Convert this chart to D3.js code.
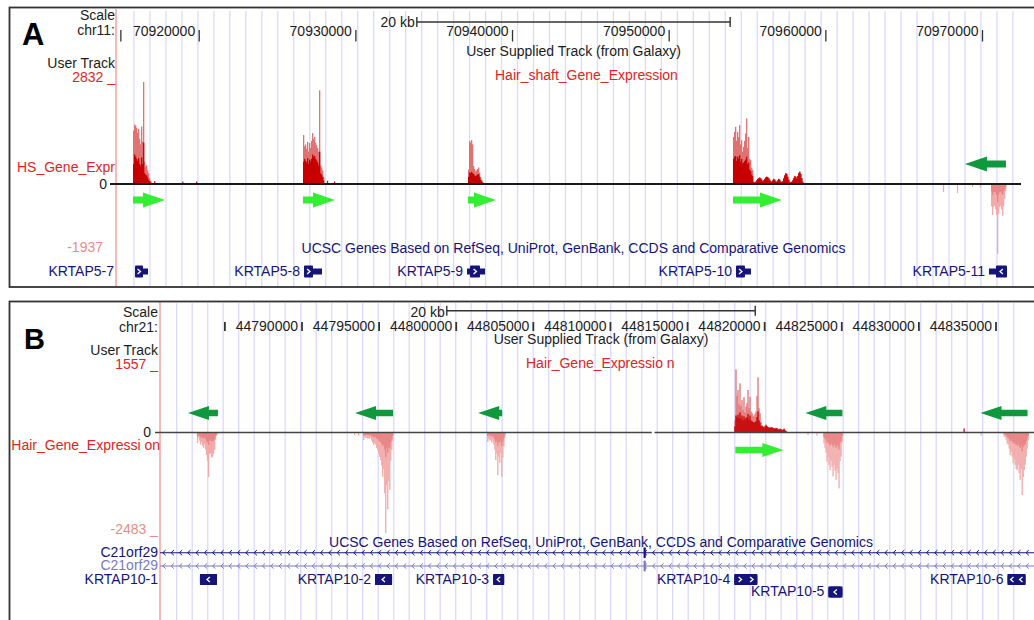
<!DOCTYPE html>
<html>
<head>
<meta charset="utf-8">
<script src="https://cdn.jsdelivr.net/npm/d3@7/dist/d3.min.js"></script>
<style>
  html, body { margin: 0; padding: 0; background: #fff; }
  svg { display: block; }
</style>
</head>
<body>
<svg id="fig" width="1034" height="620"></svg>
<script>
// ================= chr11 : KRTAP5 cluster =================
const chr11Ticks = [70915000, 70920000, 70930000, 70940000, 70950000, 70960000, 70970000];
const chr11TickLabels = ["", "70920000", "70930000", "70940000", "70950000", "70960000", "70970000"];

// coverage in 64-bp bins: start of each run, max (light) and mean (dark) per bin
const binA = 64;
const krtap5_7Start = 70915806;
const krtap5_7Max  = [1480, 1650, 1620, 1560, 1420, 1530, 1260, 1100, 1600, 1180, 2832, 620, 480, 520, 380, 300, 160, 90];
const krtap5_7Mean = [560, 820, 760, 700, 640, 720, 560, 500, 740, 560, 1150, 300, 260, 240, 180, 120, 80, 40];
const krtap5_8Start = 70926657;
const krtap5_8Max  = [1360, 1050, 1100, 980, 1170, 900, 1140, 1000, 1200, 1414, 1250, 1310, 1150, 1080, 1000, 900, 2600, 520, 460, 380, 200];
const krtap5_8Mean = [620, 700, 640, 600, 720, 560, 680, 620, 700, 820, 760, 780, 700, 660, 600, 520, 900, 300, 260, 200, 100];
const krtap5_9Start = 70937189;
const krtap5_9Max  = [400, 1200, 1150, 1220, 1100, 500, 420, 350, 380, 420, 460, 320, 200, 120, 60];
const krtap5_9Mean = [200, 320, 300, 340, 300, 280, 240, 220, 240, 260, 280, 200, 120, 80, 40];
const krtap5_10Start = 70954104;
const krtap5_10Max = [1310, 1450, 1590, 1200, 1450, 1300, 1636, 1100, 1220, 900, 1035, 1200, 1400, 1820, 1000, 1310, 700, 666, 450, 388,
  70, 50, 70, 110, 150, 170, 190, 170, 130, 90, 110, 150, 190, 210, 200, 170, 130, 90, 70, 110,
  150, 130, 90, 70, 110, 150, 130, 80, 60, 90, 170, 250, 310, 290, 210, 130, 70, 50, 70, 110,
  170, 230, 210, 160, 230, 310, 350, 290, 170, 70];
const krtap5_10Mean = [700, 760, 780, 640, 760, 700, 800, 620, 700, 560, 600, 640, 680, 760, 560, 600, 400, 360, 260, 220,
  60, 40, 60, 100, 140, 160, 180, 160, 120, 80, 100, 140, 180, 200, 190, 160, 120, 80, 60, 100,
  140, 120, 80, 60, 100, 140, 120, 70, 50, 80, 160, 240, 300, 280, 200, 120, 60, 40, 60, 100,
  160, 220, 200, 150, 220, 300, 340, 280, 160, 60];
const krtap5_11Start = 70970573;
const krtap5_11Max  = [-620, -860, -640, -600, -700, -860, -1937, -820, -640, -600, -700, -880, -620, -400, -200];
const krtap5_11Mean = [-200, -300, -220, -200, -240, -300, -500, -280, -220, -200, -240, -300, -200, -140, -80];
// isolated single-bin reads: [position, value]
const blipsA = [[70917154, 80], [70918947, 70], [70919828, 70], [70928190, 90], [70928637, 70],
  [70967504, -220], [70968398, -250], [70969355, -80], [70969866, -100]];

const arrowSpanA   = [[70915807, 70917850], [70926657, 70928700], [70937189, 70938976], [70954104, 70957232], [70968911, 70971528]];
const arrowStrandA = ["+", "+", "+", "+", "-"];

const geneNamesA  = ["KRTAP5-7", "KRTAP5-8", "KRTAP5-9", "KRTAP5-10", "KRTAP5-11"];
const geneTxA     = [[70915934, 70916764], [70926721, 70927870], [70937126, 70938275], [70954296, 70955253], [70970445, 70971594]];
const geneCdsA    = [[70915934, 70916445], [70926721, 70927296], [70937318, 70937956], [70954296, 70954870], [70970892, 70971594]];
const geneStrandA = ["+", "+", "+", "+", "-"];
const geneRowA    = [0, 0, 0, 0, 0];

// ================= chr21 : KRTAP10 cluster =================
const chr21Ticks = [44785000, 44790000, 44795000, 44800000, 44805000, 44810000, 44815000, 44820000, 44825000, 44830000, 44835000];
const chr21TickLabels = ["", "44790000", "44795000", "44800000", "44805000", "44810000", "44815000", "44820000", "44825000", "44830000", "44835000"];

const binB = 65;
const krtap10_1Start = 44783219;
const krtap10_1Max  = [-260, -120, -200, -300, -240, -330, -380, -280, -420, -560, -700, -1100, -540, -510, -620, -600, -520, -430, -185, -80, -40];
const krtap10_1Mean = [-100, -50, -80, -120, -100, -130, -150, -110, -160, -200, -240, -300, -200, -190, -220, -210, -190, -160, -80, -40, -20];
const krtap10_2Start = 44793991;
const krtap10_2Max  = [-185, -100, -140, -120, -150, -140, -160, -130, -200, -250, -310, -260, -300, -380, -430, -520, -600, -680, -820, -1100, -900, -1500, -2483, -1300, -1900, -1200, -1420, -700, -430, -200];
const krtap10_2Mean = [-80, -50, -60, -50, -60, -60, -70, -60, -80, -100, -120, -100, -120, -150, -170, -200, -220, -240, -280, -340, -300, -420, -600, -380, -500, -360, -400, -240, -160, -80];
const krtap10_3Start = 44802037;
const krtap10_3Max  = [-230, -160, -200, -180, -250, -200, -300, -420, -680, -520, -1050, -600, -750, -500, -1090, -620, -350, -120];
const krtap10_3Mean = [-90, -60, -80, -70, -100, -80, -120, -160, -240, -200, -320, -220, -260, -190, -330, -220, -140, -50];
const krtap10_4Start = 44818065;
const krtap10_4Max  = [300, 1557, 900, 1050, 700, 1215, 650, 800, 560, 870, 500, 640, 720, 1050, 600, 885, 520, 480, 420, 390,
  460, 520, 900, 1364, 600, 475, 260, 180, 150, 130, 170, 200, 160, 140, 130, 120, 140, 130, 120, 110,
  100, 120, 110, 90, 80, 100, 90, 60, 80, 100, 60, 40];
const krtap10_4Mean = [150, 420, 380, 440, 360, 500, 340, 420, 300, 400, 320, 360, 380, 460, 320, 420, 300, 280, 260, 240,
  260, 280, 380, 520, 300, 240, 160, 160, 140, 120, 150, 180, 150, 130, 120, 110, 130, 120, 110, 100,
  90, 110, 100, 80, 70, 90, 80, 50, 70, 90, 50, 30];
const krtap10_5Start = 44823840;
const krtap10_5Max  = [-270, -380, -500, -720, -600, -800, -930, -700, -850, -1090, -800, -950, -1170, -900, -1000, -1380, -700, -600, -250];
const krtap10_5Mean = [-110, -150, -190, -250, -220, -280, -320, -250, -300, -360, -280, -320, -380, -300, -340, -420, -250, -220, -100];
const krtap10_6Start = 44835520;
const krtap10_6Max  = [-100, -120, -180, -270, -300, -400, -560, -480, -600, -760, -650, -800, -900, -930, -800, -1000, -1170, -900, -1545, -1100, -930, -800, -600, -400, -200];
const krtap10_6Mean = [-40, -50, -70, -110, -120, -160, -210, -180, -220, -270, -240, -280, -310, -320, -280, -340, -380, -310, -460, -360, -320, -280, -220, -150, -80];
const blipsB = [[44793407, -60], [44793666, -80], [44822803, -60], [44823387, -80], [44832927, 100], [44834030, -80]];
// no-data stretch in the chr21 wiggle track
const zeroGapB = [44812712, 44812894];

const arrowSpanB   = [[44782636, 44784583], [44793472, 44795937], [44801453, 44803010], [44822672, 44825073], [44834028, 44837078], [44818130, 44821245]];
const arrowStrandB = ["-", "-", "-", "-", "-", "+"];

const geneNamesB  = ["KRTAP10-1", "KRTAP10-2", "KRTAP10-3", "KRTAP10-4", "KRTAP10-5", "KRTAP10-6"];
const geneTxB     = [[44783414, 44784517], [44794769, 44795872], [44802427, 44803141], [44818065, 44819558], [44824165, 44825073], [44835780, 44836948]];
const geneStrandB = ["-", "-", "-", "+", "-", "-"];
const geneRowB    = [0, 0, 0, 0, 1, 0];
// C21orf29 spans the whole window (two isoforms), one exon visible
const c21orf29Span = [44770000, 44850000];
const c21orf29Exon = [44812180, 44812260];

// ================= drawing =================
const FONT = '"Liberation Sans", Arial, Helvetica, sans-serif';
const INK = "#1c1c1c", RED = "#e02424", PINK = "#f08a8a", NAVY = "#14147a", NAVY_LIGHT = "#7a7abf";
const POS_MAX = "#e07272", POS_MEAN = "#c60000", NEG_MAX = "#f2aaaa", NEG_MEAN = "#e88585";
const GREEN_FWD = "#33ee33", GREEN_REV = "#10983c", GRID = "#dadaff";

const svg = d3.select("#fig");
svg.append("rect").attr("width", 1034).attr("height", 620).attr("fill", "#fff");

function label(g, s, x, y, o = {}) {
  return g.append("text").text(s).attr("x", x).attr("y", y)
    .attr("font-family", FONT).attr("font-size", o.size || 14)
    .attr("font-weight", o.weight || "normal")
    .attr("text-anchor", o.anchor || "start")
    .attr("fill", o.fill || INK);
}

function drawSignal(g, x, y, start, bin, maxVals, meanVals, neg) {
  const cols = maxVals.map((v, i) => ({ bp: start + i * bin, max: v, mean: meanVals[i] }));
  const w = d => Math.max(1, x(d.bp + bin) - x(d.bp)) + 0.3;
  [["max", neg ? NEG_MAX : POS_MAX], ["mean", neg ? NEG_MEAN : POS_MEAN]].forEach(([k, col]) => {
    g.append("g").selectAll("rect").data(cols).join("rect")
      .attr("x", d => x(d.bp)).attr("width", w)
      .attr("y", d => Math.min(y(0), y(d[k])))
      .attr("height", d => Math.abs(y(d[k]) - y(0)))
      .attr("fill", col);
  });
}

function drawBlips(g, x, y, blips, bin) {
  g.append("g").selectAll("rect").data(blips).join("rect")
    .attr("x", d => x(d[0])).attr("width", d => Math.max(1.2, x(d[0] + bin) - x(d[0])))
    .attr("y", d => Math.min(y(0), y(d[1])))
    .attr("height", d => Math.abs(y(d[1]) - y(0)))
    .attr("fill", d => d[1] < 0 ? NEG_MAX : POS_MEAN);
}

function arrowPath(x0, x1, strand, cy, hl, hh, sh) {
  hl = Math.min(hl, x1 - x0);
  if (strand === "+")
    return `M${x0},${cy - sh}L${x1 - hl},${cy - sh}L${x1 - hl},${cy - hh}L${x1},${cy}L${x1 - hl},${cy + hh}L${x1 - hl},${cy + sh}L${x0},${cy + sh}Z`;
  return `M${x1},${cy - sh}L${x0 + hl},${cy - sh}L${x0 + hl},${cy - hh}L${x0},${cy}L${x0 + hl},${cy + hh}L${x0 + hl},${cy + sh}L${x1},${cy + sh}Z`;
}

function drawArrows(g, x, spans, strands, cfg) {
  g.append("g").selectAll("path").data(spans).join("path")
    .attr("d", (d, i) => arrowPath(x(d[0]), x(d[1]), strands[i],
      strands[i] === "+" ? cfg.fwdY : cfg.revY, cfg.head, cfg.headHalf, cfg.shaftHalf))
    .attr("fill", (d, i) => strands[i] === "+" ? GREEN_FWD : GREEN_REV);
}

function chevron(g, cx, cy, strand, col, size) {
  const d = strand === "+" ? 1 : -1;
  g.append("path")
    .attr("d", `M${cx - d * size * 0.6},${cy - size}L${cx + d * size * 0.6},${cy}L${cx - d * size * 0.6},${cy + size}`)
    .attr("fill", "none").attr("stroke", col).attr("stroke-width", 1.3);
}

function drawGenes(g, x, names, tx, cds, strands, rows, cfg) {
  names.forEach((name, i) => {
    const cy = cfg.rowY[rows[i]];
    const x0 = x(tx[i][0]), x1 = x(tx[i][1]);
    const c0 = x(cds[i][0]), c1 = x(cds[i][1]);
    g.append("rect").attr("x", x0).attr("y", cy - cfg.thin / 2).attr("width", x1 - x0).attr("height", cfg.thin).attr("fill", NAVY);
    g.append("rect").attr("x", c0).attr("y", cy - cfg.thick / 2).attr("width", c1 - c0).attr("height", cfg.thick)
      .attr("rx", cfg.rx).attr("fill", NAVY);
    const w = c1 - c0;
    const n = Math.floor((w + 2) / 10);
    for (let k = 0; k < n; k++) chevron(g, c0 + w * (k + 0.5) / n, cy, strands[i], "#fff", 2.4);
    const t = label(g, name, 0, cy + cfg.textDy, { anchor: "end", fill: NAVY, size: 14 });
    const tw = t.node().getComputedTextLength();
    let end = x0 - 4;
    if (end - tw < cfg.trackLeft) end = cfg.trackLeft - 2;
    t.attr("x", end);
  });
}

function drawRuler(g, x, ticks, labels, cfg) {
  const ax = g.append("g").attr("transform", `translate(0,${cfg.tickTop})`)
    .call(d3.axisBottom(x).tickValues(ticks).tickFormat((d, i) => labels[i])
      .tickSize(cfg.tickLen).tickSizeOuter(0));
  ax.select(".domain").remove();
  ax.selectAll(".tick line").attr("stroke", "#333").attr("stroke-width", cfg.tickW);
  ax.selectAll(".tick text").attr("text-anchor", "end").attr("x", -4).attr("y", cfg.labelY - cfg.tickTop)
    .attr("dy", 0).attr("font-family", FONT).attr("font-size", 14).attr("fill", INK);
  // 20 kb scale bar centred on the window
  const mid = (x.invert(cfg.trackLeft) + x.invert(cfg.viewRight)) / 2;
  const b0 = x(mid - 10000), b1 = x(mid + 10000);
  g.append("line").attr("x1", b0).attr("x2", b1).attr("y1", cfg.barY).attr("y2", cfg.barY).attr("stroke", "#333").attr("stroke-width", 1.4);
  [b0, b1].forEach(v => g.append("line").attr("x1", v).attr("x2", v).attr("y1", cfg.barY - 5).attr("y2", cfg.barY + 5).attr("stroke", "#333").attr("stroke-width", 1.4));
  label(g, "20 kb", b0 - 2, cfg.barLabelY, { anchor: "end" });
  return (cfg.trackLeft + cfg.viewRight) / 2;
}

function drawGuides(g, cfg) {
  g.append("g").selectAll("line").data(d3.range(cfg.gridStart, cfg.gridEnd, cfg.gridStep)).join("line")
    .attr("x1", d => d).attr("x2", d => d).attr("y1", cfg.gridTop).attr("y2", cfg.gridBottom)
    .attr("stroke", GRID).attr("stroke-width", 1.3);
  g.append("line").attr("x1", cfg.trackLeft).attr("x2", cfg.trackLeft).attr("y1", cfg.gridTop - 2).attr("y2", cfg.gridBottom)
    .attr("stroke", "#f6a8a8").attr("stroke-width", 1.6);
}

// ---------- panel A ----------
(function () {
  const g = svg.append("g");
  const x = d3.scaleLinear().domain([70920000, 70970000]).range([198.7, 982]);
  const allA = [...krtap5_7Max, ...krtap5_8Max, ...krtap5_9Max, ...krtap5_10Max, ...krtap5_11Max];
  const y = d3.scaleLinear().domain([d3.min(allA), d3.max(allA)]).range([253.9, 82]);
  const cfg = { trackLeft: 116, viewRight: 1031, gridStart: 134, gridEnd: 1020, gridStep: 15.98, gridTop: 11, gridBottom: 287 };
  drawGuides(g, cfg);

  label(g, "A", 22, 45, { size: 31, weight: "bold", fill: "#000" });
  label(g, "Scale", 115, 20, { anchor: "end" });
  label(g, "chr11:", 115, 35, { anchor: "end" });
  const mid = drawRuler(g, x, chr11Ticks, chr11TickLabels,
    { tickTop: 30, tickLen: 11.5, tickW: 1.3, labelY: 36, barY: 22, barLabelY: 26.5, trackLeft: 116, viewRight: 1031 });

  label(g, "User Supplied Track (from Galaxy)", mid, 55.5, { anchor: "middle" });
  label(g, "Hair_shaft_Gene_Expression", 495, 80, { fill: RED });
  label(g, "User Track", 115, 68, { anchor: "end" });
  label(g, `${d3.max(allA)} _`, 115, 82, { anchor: "end", fill: RED });
  label(g, "HS_Gene_Expr", 115, 172, { anchor: "end", fill: RED });
  label(g, "0", 107, 188.5, { anchor: "end" });
  label(g, `${d3.min(allA)}`, 103, 252, { anchor: "end", fill: PINK });

  drawSignal(g, x, y, krtap5_7Start, binA, krtap5_7Max, krtap5_7Mean, false);
  drawSignal(g, x, y, krtap5_8Start, binA, krtap5_8Max, krtap5_8Mean, false);
  drawSignal(g, x, y, krtap5_9Start, binA, krtap5_9Max, krtap5_9Mean, false);
  drawSignal(g, x, y, krtap5_10Start, binA, krtap5_10Max, krtap5_10Mean, false);
  drawSignal(g, x, y, krtap5_11Start, binA, krtap5_11Max, krtap5_11Mean, true);
  drawBlips(g, x, y, blipsA, binA);
  g.append("line").attr("x1", 110).attr("x2", 1021).attr("y1", y(0)).attr("y2", y(0)).attr("stroke", "#1a1a1a").attr("stroke-width", 2);

  drawArrows(g, x, arrowSpanA, arrowStrandA, { fwdY: 200, revY: 164, head: 22, headHalf: 7.5, shaftHalf: 3.5 });

  label(g, "UCSC Genes Based on RefSeq, UniProt, GenBank, CCDS and Comparative Genomics", mid, 253, { anchor: "middle", fill: NAVY });
  drawGenes(g, x, geneNamesA, geneTxA, geneCdsA, geneStrandA, geneRowA,
    { rowY: [271.5], thin: 6, thick: 12, rx: 1, textDy: 4.5, trackLeft: 116 });

  g.append("rect").attr("x", 9.5).attr("y", 7.5).attr("width", 1040).attr("height", 279.5)
    .attr("fill", "none").attr("stroke", "#333").attr("stroke-width", 1.8);
})();

// ---------- panel B ----------
(function () {
  const g = svg.append("g");
  const x = d3.scaleLinear().domain([44790000, 44835000]).range([301.5, 995.5]);
  const allB = [...krtap10_1Max, ...krtap10_2Max, ...krtap10_3Max, ...krtap10_4Max, ...krtap10_5Max, ...krtap10_6Max];
  const y = d3.scaleLinear().domain([d3.min(allB), d3.max(allB)]).range([533, 369.5]);
  const cfg = { trackLeft: 160, viewRight: 1042, gridStart: 176.7, gridEnd: 1020, gridStep: 15.5, gridTop: 303, gridBottom: 620 };
  drawGuides(g, cfg);

  label(g, "B", 24, 349, { size: 29, weight: "bold", fill: "#000" });
  label(g, "Scale", 158, 317, { anchor: "end" });
  label(g, "chr21:", 158, 331.5, { anchor: "end" });
  const mid = drawRuler(g, x, chr21Ticks, chr21TickLabels,
    { tickTop: 322, tickLen: 9, tickW: 1.8, labelY: 331, barY: 310.7, barLabelY: 316.5, trackLeft: 160, viewRight: 1042 });

  label(g, "User Supplied Track (from Galaxy)", mid, 344, { anchor: "middle" });
  label(g, "Hair_Gene_Expressio n", 526, 368, { fill: RED });
  label(g, "User Track", 158, 355, { anchor: "end" });
  label(g, `${d3.max(allB)} _`, 158, 368.5, { anchor: "end", fill: RED });
  label(g, "0", 151, 436.5, { anchor: "end" });
  label(g, "Hair_Gene_Expressi on", 160, 449.5, { anchor: "end", fill: RED });
  label(g, `${d3.min(allB)} _`, 158, 533.5, { anchor: "end", fill: PINK });

  drawSignal(g, x, y, krtap10_1Start, binB, krtap10_1Max, krtap10_1Mean, true);
  drawSignal(g, x, y, krtap10_2Start, binB, krtap10_2Max, krtap10_2Mean, true);
  drawSignal(g, x, y, krtap10_3Start, binB, krtap10_3Max, krtap10_3Mean, true);
  drawSignal(g, x, y, krtap10_4Start, binB, krtap10_4Max, krtap10_4Mean, false);
  drawSignal(g, x, y, krtap10_5Start, binB, krtap10_5Max, krtap10_5Mean, true);
  drawSignal(g, x, y, krtap10_6Start, binB, krtap10_6Max, krtap10_6Mean, true);
  drawBlips(g, x, y, blipsB, binB);
  const z = y(0);
  [[155, x(zeroGapB[0])], [x(zeroGapB[1]), 1034]].forEach(s =>
    g.append("line").attr("x1", s[0]).attr("x2", s[1]).attr("y1", z).attr("y2", z).attr("stroke", "#444").attr("stroke-width", 1.6));

  drawArrows(g, x, arrowSpanB, arrowStrandB, { fwdY: 450, revY: 413, head: 21, headHalf: 7, shaftHalf: 3.2 });

  label(g, "UCSC Genes Based on RefSeq, UniProt, GenBank, CCDS and Comparative Genomics", mid, 546.7, { anchor: "middle", fill: NAVY });

  // C21orf29 isoforms: intron line with strand chevrons
  [[552.7, NAVY, "C21orf29", 556.7], [566, NAVY_LIGHT, "C21orf29", 570.2]].forEach(([ly, col, nm, ty]) => {
    const a = Math.max(160, x(c21orf29Span[0])), b = Math.min(1034, x(c21orf29Span[1]));
    g.append("line").attr("x1", a).attr("x2", b).attr("y1", ly).attr("y2", ly).attr("stroke", col).attr("stroke-width", 1.1);
    g.append("g").selectAll("path").data(d3.range(a + 4, b, 8.3)).join("path")
      .attr("d", d => `M${d + 1.6},${ly - 2.6}L${d - 1.2},${ly}L${d + 1.6},${ly + 2.6}`)
      .attr("fill", "none").attr("stroke", col).attr("stroke-width", 1);
    g.append("rect").attr("x", x(c21orf29Exon[0])).attr("y", ly - 5.5)
      .attr("width", Math.max(2.2, x(c21orf29Exon[1]) - x(c21orf29Exon[0]))).attr("height", 11).attr("rx", 1).attr("fill", col);
    label(g, nm, 158, ty, { anchor: "end", fill: col });
  });

  drawGenes(g, x, geneNamesB, geneTxB, geneTxB, geneStrandB, geneRowB,
    { rowY: [579.5, 592], thin: 11, thick: 11, rx: 2.5, textDy: 4, trackLeft: 160 });

  g.append("rect").attr("x", 9.5).attr("y", 301.5).attr("width", 1040).attr("height", 330)
    .attr("fill", "none").attr("stroke", "#333").attr("stroke-width", 1.8);
})();
</script>
</body>
</html>
